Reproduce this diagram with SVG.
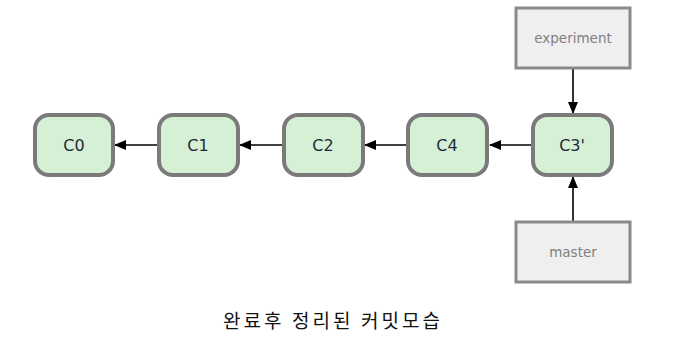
<svg xmlns="http://www.w3.org/2000/svg" width="685" height="351" viewBox="0 0 685 351">
<style>
.commit rect{fill:#d6f0d6;stroke:#7a7a7a;stroke-width:4}
.commit text{font-family:"DejaVu Sans","Liberation Sans",sans-serif;font-size:16px;fill:#1c2a38;text-anchor:middle}
.ref rect{fill:#efefef;stroke:#8a8a8a;stroke-width:3}
.ref text{font-family:"DejaVu Sans","Liberation Sans",sans-serif;font-size:13.5px;fill:#808080;text-anchor:middle}
.conn line{stroke:#000;stroke-width:1.6;marker-end:url(#ah)}
.caption{font-family:"Noto Sans CJK KR",sans-serif;font-size:19px;fill:#111}
</style>
<defs>
<marker id="ah" markerWidth="12" markerHeight="10" refX="11" refY="5" orient="auto" markerUnits="userSpaceOnUse">
<path d="M0,0 L12,5 L0,10 Z" fill="#000"/>
</marker>
</defs>
<g id="connectors" class="conn">
<line x1="158" y1="145" x2="115" y2="145"/>
<line x1="283" y1="145" x2="240" y2="145"/>
<line x1="407" y1="145" x2="365" y2="145"/>
<line x1="532" y1="145" x2="490" y2="145"/>
<line x1="573" y1="68" x2="573" y2="113"/>
<line x1="573" y1="222" x2="573" y2="177"/>
</g>
<g id="C0" class="commit"><rect x="35" y="115" width="78" height="60" rx="14"/><text x="74" y="151">C0</text></g>
<g id="C1" class="commit"><rect x="159" y="115" width="79" height="60" rx="14"/><text x="198" y="151">C1</text></g>
<g id="C2" class="commit"><rect x="284" y="115" width="79" height="60" rx="14"/><text x="323" y="151">C2</text></g>
<g id="C4" class="commit"><rect x="408" y="115" width="79" height="60" rx="14"/><text x="447" y="151">C4</text></g>
<g id="C3p" class="commit"><rect x="533" y="115" width="79" height="60" rx="14"/><text x="572" y="151">C3'</text></g>
<g id="experiment" class="ref"><rect x="516" y="8" width="114" height="60"/><text x="573" y="43">experiment</text></g>
<g id="master" class="ref"><rect x="516" y="222" width="114" height="60"/><text x="573" y="257">master</text></g>
<text class="caption" x="223" y="328" textLength="217" lengthAdjust="spacing">완료후 정리된 커밋모습</text>
</svg>
